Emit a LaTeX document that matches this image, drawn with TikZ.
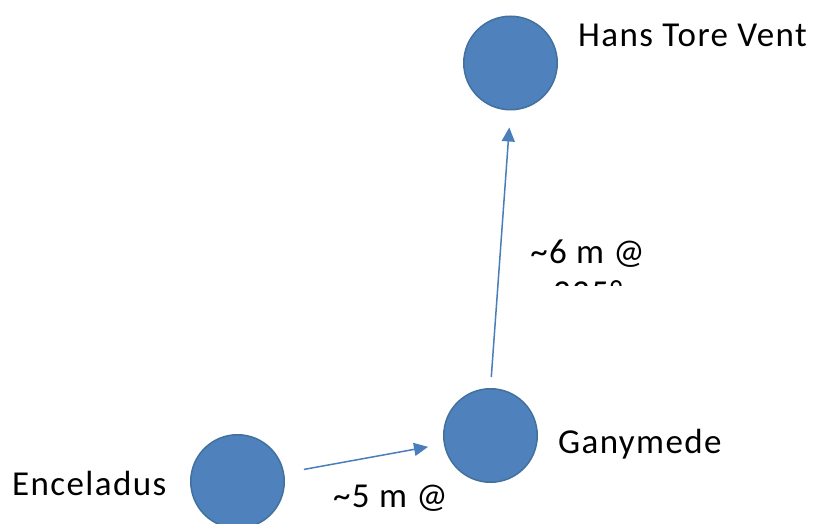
\documentclass[tikz,border=0pt]{standalone}
\usepackage{fontspec}
\setmainfont{Carlito}[LetterSpace=4]
\usepackage{xcolor}
\usetikzlibrary{arrows.meta}

\definecolor{ventfill}{HTML}{4F81BD}
\definecolor{ventdraw}{HTML}{41719C}
\definecolor{linkblue}{HTML}{4A7EBB}

\begin{document}
\begin{tikzpicture}[
    x=1pt, y=-1pt,
    vent/.style={circle, fill=ventfill, draw=ventdraw, line width=1.5pt, minimum size=93.5pt, inner sep=0pt},
    ventlabel/.style={anchor=base west, inner sep=0pt, font=\fontsize{35}{41}\selectfont},
    link/.style={-{Triangle[length=14pt, width=13pt]}, line width=1.5pt, linkblue}
]
\clip (0,0) rectangle (814,524);

% === Vents ===
\node[vent] (hans) at (510.5,63) {};
\node[vent] (gany) at (490.5,435.5) {};
\node[vent] (encel) at (237.5,481.5) {};

% Names
\node[ventlabel] (hanslabel) at (578,47) {Hans Tore Vent};
\node[ventlabel] (ganylabel) at (558,453) {Ganymede};
\node[ventlabel] (encellabel) at (12,495) {Enceladus};

% === Links ===
\draw[link, shorten <=11pt, shorten >=17pt] (gany.north) -- (hans.south);
\draw[link, shorten <=20pt, shorten >=16pt] (encel) -- (gany);

% Distance labels (text box cut off below the first line)
\begin{scope}
\clip (500,200) rectangle (700,285.5);
\node[ventlabel, anchor=base] (upper) at (587.5,263) {\begin{tabular}[t]{@{}c@{}}\textasciitilde6 m @\\335°\end{tabular}};
\end{scope}
\node[ventlabel] (lower) at (333,507) {\textasciitilde5 m @};

\end{tikzpicture}
\end{document}
